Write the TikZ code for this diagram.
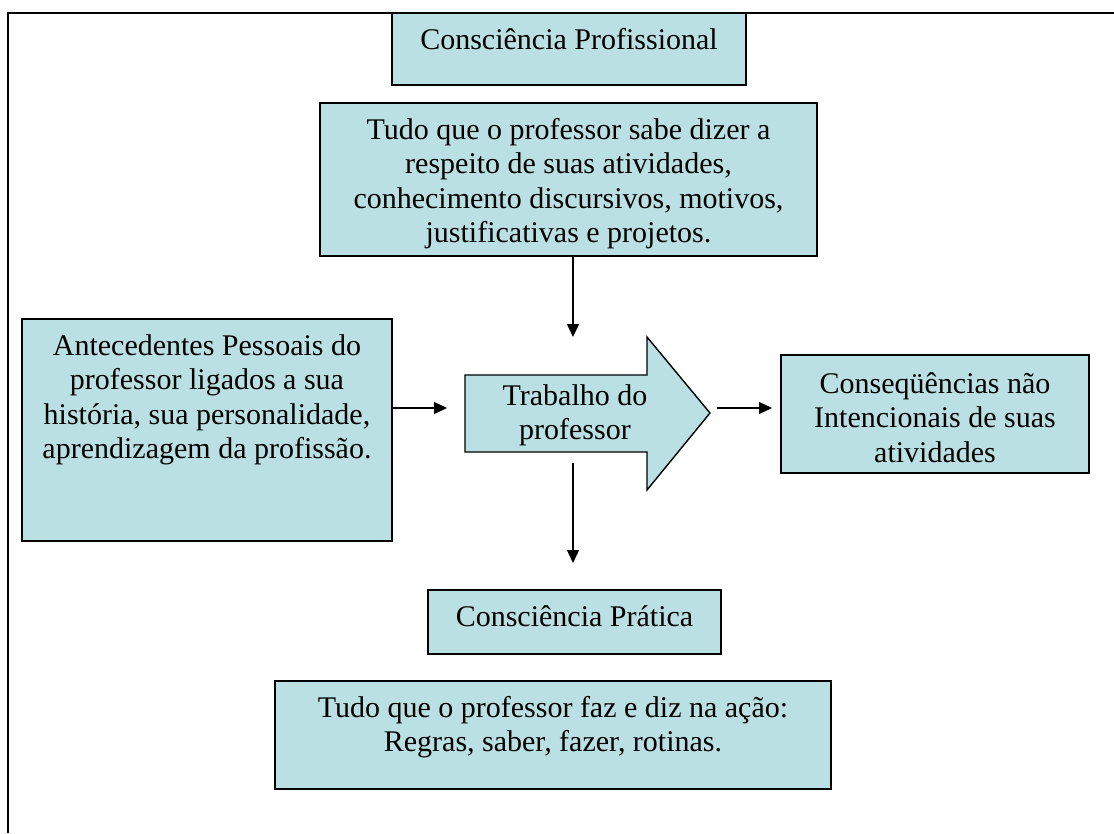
\documentclass[tikz,border=0pt]{standalone}
\usepackage{fontspec}
\setmainfont{Liberation Serif}
\usetikzlibrary{arrows.meta}
\definecolor{boxfill}{RGB}{186,224,228}
\newcommand\firstline{\rule{0pt}{24pt}}
\begin{document}
\begin{tikzpicture}[x=1pt,y=-1pt,
  box/.style={draw=black, line width=1.4pt, fill=boxfill, inner sep=0pt, outer sep=0pt, anchor=north west},
  txt/.style={align=center, font=\fontsize{30}{34.5}\selectfont, inner sep=0pt, anchor=north},
  conn/.style={line width=1.3pt, -{Triangle[length=13pt,width=12pt]}}]
\useasboundingbox (0,0) rectangle (1114,833);
\draw[line width=2pt] (8,833) -- (8,13) -- (1114,13);
% boxes
\node[box, minimum width=354pt, minimum height=72pt] (b1) at (392,13) {};
\node[box, minimum width=497pt, minimum height=153pt] (b2) at (320,103) {};
\node[box, minimum width=370pt, minimum height=222pt] (ant) at (22,319) {};
\node[box, minimum width=308pt, minimum height=118pt] (con) at (781,355) {};
\node[box, minimum width=293pt, minimum height=64pt] (p6) at (428,590) {};
\node[box, minimum width=556pt, minimum height=108pt] (p7) at (275,681) {};
% block arrow
\draw[line width=1.4pt, fill=boxfill, line join=miter]
  (465,375) -- (647,375) -- (647,337) -- (710,413) -- (647,490) -- (647,452) -- (465,452) -- cycle;
% texts
\node[txt] (t1) at (569,25) {\firstline Consciência Profissional};
\node[txt] (t2) at (568.5,115) {\firstline Tudo que o professor sabe dizer a\\respeito de suas atividades,\\conhecimento discursivos, motivos,\\justificativas e projetos.};
\node[txt] (tant) at (207,331) {\firstline Antecedentes Pessoais do\\professor ligados a sua\\história, sua personalidade,\\aprendizagem da profissão.};
\node[txt] (work) at (575,381) {\firstline Trabalho do\\professor};
\node[txt] (tcon) at (935,369) {\firstline Conseqüências não\\Intencionais de suas\\atividades};
\node[txt] (t6) at (574.5,602) {\firstline Consciência Prática};
\node[txt] (t7) at (553,693) {\firstline Tudo que o professor faz e diz na ação:\\Regras, saber, fazer, rotinas.};
% connectors
\coordinate (d1end) at (573,337);
\draw[conn] (b2.south -| d1end) -- (d1end);
\coordinate (lend) at (447,408);
\draw[conn] (ant.east |- lend) -- (lend);
\coordinate (rstart) at (717,408);
\draw[conn, shorten >=9pt] (rstart) -- (con.west |- rstart);
\coordinate (d2start) at (573,463);
\draw[conn, shorten >=27pt] (d2start) -- (p6.north -| d2start);
\end{tikzpicture}
\end{document}
